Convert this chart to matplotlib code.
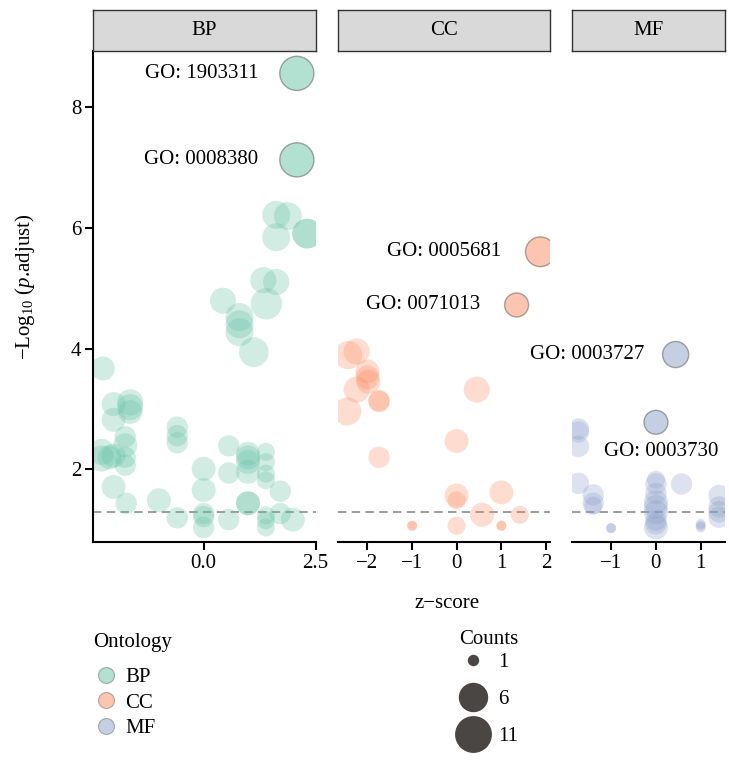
# Bubble plot of GO terms: z-score vs -log10(p.adjust), faceted by ontology

import numpy as np
import matplotlib.pyplot as plt
from matplotlib.lines import Line2D

plt.rcParams['font.family'] = ['Liberation Serif', 'DejaVu Serif']
plt.rcParams['mathtext.fontset'] = 'custom'
plt.rcParams['mathtext.rm'] = 'Liberation Serif'
plt.rcParams['mathtext.it'] = 'Liberation Serif:italic'

# ---- data ----
bp_z = [2.08, 2.08, 1.62, 1.88, 1.62, 2.31, 2.31, 1.33, 1.62, 1.40, 0.43, 0.80, 0.80, 0.80, 1.12,
        -2.25, -2.01, -2.01, -1.64, -1.64, -1.64, -0.59, -0.59, -0.59, -2.28, -2.28, -2.01, -2.10,
        -1.75, -1.75, -1.75, -1.75, -2.01, -1.73, -1.00, -0.59, 0.0, 0.0, 0.0, 0.0, 0.0,
        0.56, 0.56, 0.56, 0.99, 0.99, 0.99, 0.99, 0.99, 0.99, 1.39, 1.39, 1.39, 1.39, 1.39, 1.39, 1.39,
        1.71, 1.71, 1.99]
bp_logp = [8.55, 7.12, 6.21, 6.19, 5.84, 5.90, 5.90, 5.13, 5.10, 4.74, 4.79, 4.52, 4.40, 4.27, 3.94,
           3.67, 3.08, 2.82, 3.11, 3.03, 2.95, 2.70, 2.56, 2.44, 2.29, 2.18, 2.23, 2.20,
           2.54, 2.40, 2.20, 2.07, 1.71, 1.44, 1.49, 1.20, 2.01, 1.66, 1.27, 1.22, 1.04,
           2.39, 1.94, 1.17, 2.26, 2.20, 2.12, 1.96, 1.44, 1.44, 2.29, 2.12, 1.93, 1.82, 1.24, 1.16, 1.04,
           1.64, 1.27, 1.17]
bp_count = [10, 10, 6, 6, 6, 7, 7, 5, 5, 8, 5, 6, 6, 6, 7,
            4, 4, 4, 5, 5, 4, 3, 3, 3, 5, 5, 4, 4,
            3, 4, 3, 3, 4, 3, 4, 3, 4, 4, 3, 3, 3,
            3, 3, 3, 4, 4, 4, 4, 4, 4, 2, 2, 2, 2, 2, 2, 2,
            3, 3, 4]

cc_z = [1.87, 1.34, -2.42, -2.23, -1.99, -1.99, -1.97, -2.23, -1.73, -1.73, -2.44, 0.45, 0.0,
        -1.73, 0.0, 0.0, 1.0, 0.57, 1.41, -0.99, -0.99, 0.0, 1.0, 1.0]
cc_logp = [5.60, 4.72, 3.89, 3.95, 3.62, 3.52, 3.45, 3.32, 3.14, 3.12, 2.96, 3.32, 2.47,
           2.20, 1.57, 1.49, 1.62, 1.25, 1.25, 1.07, 1.07, 1.07, 1.07, 1.07]
cc_count = [7, 4, 6, 5, 4, 4, 4, 5, 3, 3, 6, 5, 4,
            3, 4, 2, 4, 4, 2, 1, 1, 2, 1, 1]

mf_z = [0.44, 0.0, -1.73, -1.73, -1.73, -1.73, -1.40, -1.40, -1.40, -1.0, -1.0,
        0.0, 0.0, 0.0, 0.0, 0.0, 0.0, 0.0, 0.0, 0.0, 0.57, 1.0, 1.0, 1.0, 1.41, 1.41, 1.41, 1.41]
mf_logp = [3.90, 2.78, 2.67, 2.62, 2.38, 1.77, 1.58, 1.44, 1.40, 1.03, 1.03,
           1.83, 1.76, 1.60, 1.46, 1.38, 1.29, 1.16, 1.04, 1.10, 1.76, 1.10, 1.04, 1.07, 1.57, 1.38, 1.21, 1.30]
mf_count = [5, 4, 3, 3, 3, 3, 3, 3, 2, 1, 1,
            2, 3, 3, 4, 4, 4, 3, 4, 3, 3, 1, 1, 1, 3, 3, 3, 3]

# labelled terms (the first entries of each ontology's lists)
labels_bp = ["GO: 1903311", "GO: 0008380"]
labels_cc = ["GO: 0005681", "GO: 0071013"]
labels_mf = ["GO: 0003727", "GO: 0003730"]

ontologies = ["BP", "CC", "MF"]
colors = {"BP": "#66C2A5", "CC": "#FC8D62", "MF": "#8DA0CB"}
count_legend = [1, 6, 11]
cutoff = -np.log10(0.05)
FS = 15


def count_to_pt(c):
    # ggplot-like area scale: diameter (px) grows with sqrt(count)
    d_px = 10 + 8.05 * np.sqrt(np.asarray(c, dtype=float) - 1)
    return d_px * 0.72


W, H = 729, 760
fig = plt.figure(figsize=(W / 100, H / 100), dpi=100)

panels = {
    "BP": dict(z=bp_z, y=bp_logp, n=bp_count, labs=labels_bp, xlim=(-2.47, 2.50),
               ticks=[0.0, 2.5], ticklabels=["0.0", "2.5"], left=93,
               text_xy=[(1.22, 8.55, 'right'), (1.22, 7.12, 'right')]),
    "CC": dict(z=cc_z, y=cc_logp, n=cc_count, labs=labels_cc, xlim=(-2.64, 2.08),
               ticks=[-2, -1, 0, 1, 2], ticklabels=None, left=338.3,
               text_xy=[(1.0, 5.60, 'right'), (0.52, 4.72, 'right')]),
    "MF": dict(z=mf_z, y=mf_logp, n=mf_count, labs=labels_mf, xlim=(-1.88, 1.55),
               ticks=[-1, 0, 1], ticklabels=None, left=571.7,
               text_xy=[(-0.25, 3.90, 'right'), (0.11, 2.30, 'center')]),
}

px_per_unit = 44.8
ylim = (0.80, 8.92)
ax_bottom, ax_top = 542, 51
strip_top = 10

for ont in ontologies:
    p = panels[ont]
    wpx = (p["xlim"][1] - p["xlim"][0]) * px_per_unit
    ax = fig.add_axes([p["left"] / W, (H - ax_bottom) / H, wpx / W, (ax_bottom - ax_top) / H])
    z = np.array(p["z"])
    y = np.array(p["y"])
    n = np.array(p["n"])
    s = count_to_pt(n) ** 2

    nlab = len(p["labs"])
    ax.scatter(z[nlab:], y[nlab:], s=s[nlab:], color=colors[ont], alpha=0.3,
               linewidths=0, zorder=2)
    ax.scatter(z[:nlab], y[:nlab], s=s[:nlab], facecolor=colors[ont], alpha=0.5,
               edgecolor='#555555', linewidths=1.0, zorder=3)
    for lab, (tx, ty, ha) in zip(p["labs"], p["text_xy"]):
        ax.text(tx, ty, lab, ha=ha, va='center', fontsize=FS, zorder=4)

    ax.axhline(cutoff, color='#808080', lw=1.1, ls=(0, (5.5, 3.5)), zorder=1)
    ax.set_xlim(*p["xlim"])
    ax.set_ylim(*ylim)
    ax.set_xticks(p["ticks"])
    if p["ticklabels"]:
        ax.set_xticklabels(p["ticklabels"])
    for sp in ['top', 'right']:
        ax.spines[sp].set_visible(False)
    ax.spines['bottom'].set_linewidth(1.5)
    ax.tick_params(axis='both', labelsize=FS, length=5.5, width=1.5, pad=3)
    if ont == "BP":
        ax.spines['left'].set_linewidth(1.5)
        ax.set_yticks([2, 4, 6, 8])
        ax.set_ylabel('−Log$_{10}$ ($p$.adjust)', fontsize=FS)
        ax.yaxis.set_label_coords(-0.25, 0.52)
    else:
        ax.spines['left'].set_visible(False)
        ax.set_yticks([])

    # facet strip
    sax = fig.add_axes([p["left"] / W, (H - ax_top) / H, wpx / W, (ax_top - strip_top) / H])
    sax.set_facecolor('#d9d9d9')
    sax.set_xticks([])
    sax.set_yticks([])
    for sp in sax.spines.values():
        sp.set_color('#333333')
        sp.set_linewidth(1.0)
    sax.text(0.5, 0.5, ont, ha='center', va='center', fontsize=FS, transform=sax.transAxes)

fig.text(447 / W, 1 - 603 / H, 'z−score', ha='center', va='center', fontsize=FS)

# Ontology legend
fig.text(93 / W, 1 - 642 / H, 'Ontology', ha='left', va='center', fontsize=FS)
ont_handles = [Line2D([], [], ls='none', marker='o', markersize=11.5,
                      markerfacecolor=colors[o], markeredgecolor='#666666',
                      markeredgewidth=0.8, alpha=0.5) for o in ontologies]
fig.legend(ont_handles, ontologies, loc='upper left',
           bbox_to_anchor=(95.6 / W, 1 - 667.7 / H), frameon=False, fontsize=FS,
           labelspacing=0.28, handletextpad=0.41, handlelength=1.0,
           borderpad=0, borderaxespad=0)

# Counts legend
fig.text(459 / W, 1 - 639 / H, 'Counts', ha='left', va='center', fontsize=FS)
cnt_handles = [Line2D([], [], ls='none', marker='o', markersize=float(count_to_pt(c)),
                      markerfacecolor='#4a4644', markeredgecolor='#4a4644')
               for c in count_legend]
fig.legend(cnt_handles, [str(c) for c in count_legend], loc='upper left',
           bbox_to_anchor=(454.25 / W, 1 - 652.7 / H), frameon=False, fontsize=FS,
           labelspacing=0.84, handletextpad=0.3, handlelength=1.8,
           borderpad=0, borderaxespad=0)

plt.savefig('out.png', dpi=100)
